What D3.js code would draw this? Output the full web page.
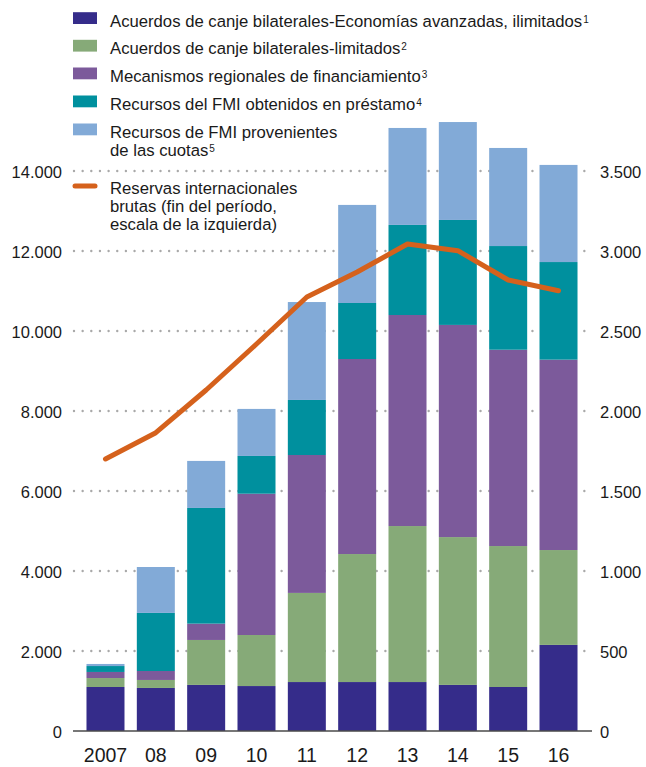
<!DOCTYPE html>
<html>
<head>
<meta charset="utf-8">
<script src="https://cdnjs.cloudflare.com/ajax/libs/d3/7.8.5/d3.min.js"></script>
<style>
  html, body { margin: 0; padding: 0; background: #fff; }
  svg { display: block; font-family: "Liberation Sans", Arial, sans-serif; }
</style>
</head>
<body>
<svg id="chart" width="646" height="767"></svg>
<script>
// ---- Data ----
const years = ["2007", "08", "09", "10", "11", "12", "13", "14", "15", "16"];

// Series (right-hand scale, stacked bars)
const swapAdvanced   = [275, 269, 288, 281, 306, 306, 306, 288, 275, 538];
const swapLimited    = [56, 50, 281, 319, 557, 800, 975, 924, 881, 593];
const regional       = [38, 56, 102, 883, 862, 1219, 1319, 1326, 1227, 1190];
const imfBorrowed    = [37, 363, 723, 236, 344, 350, 563, 656, 648, 610];
const imfQuota       = [13, 287, 294, 294, 612, 613, 606, 612, 613, 607];

// Line (left-hand scale)
const reserves = [6800, 7458, 8525, 9675, 10850, 11475, 12175, 12008, 11275, 11008];

const leftTicks  = [0, 2000, 4000, 6000, 8000, 10000, 12000, 14000];
const rightTicks = [0, 500, 1000, 1500, 2000, 2500, 3000, 3500];

const seriesNames = [
  ["Acuerdos de canje bilaterales-Economías avanzadas, ilimitados", "1"],
  ["Acuerdos de canje bilaterales-limitados", "2"],
  ["Mecanismos regionales de financiamiento", "3"],
  ["Recursos del FMI obtenidos en préstamo", "4"],
  ["Recursos de FMI provenientes|de las cuotas", "5"]
];
const lineName = ["Reservas internacionales", "brutas (fin del período,", "escala de la izquierda)"];
const colors = ["#352c8a", "#86aa78", "#7c5a9b", "#00909e", "#82aad7"];
const lineColor = "#d5611c";

// ---- Layout ----
const svg = d3.select("#chart");
const plotLeft = 73, plotRight = 591, yBottom = 731, yTop = 171;

const x = d3.scaleBand().domain(years).range([plotLeft, plotRight])
  .paddingInner(0.245).paddingOuter(0.268);
const yL = d3.scaleLinear().domain([0, 14000]).range([yBottom, yTop]);
const yR = d3.scaleLinear().domain([0, 3500]).range([yBottom, yTop]);

const fmt = d3.formatLocale({decimal: ",", thousands: ".", grouping: [3], currency: ["", ""]}).format(",");

// gridlines
svg.append("g").selectAll("line").data(leftTicks.filter(d => d > 0)).join("line")
  .attr("x1", plotLeft + 1).attr("x2", plotRight)
  .attr("y1", d => yL(d)).attr("y2", d => yL(d))
  .attr("stroke", "#a9a9a9").attr("stroke-width", 2.4)
  .attr("stroke-linecap", "round").attr("stroke-dasharray", "0 8.65");

// stacked bars
const rows = years.map((yr, i) => ({
  year: yr, s0: swapAdvanced[i], s1: swapLimited[i], s2: regional[i], s3: imfBorrowed[i], s4: imfQuota[i]
}));
const stack = d3.stack().keys(["s0", "s1", "s2", "s3", "s4"])(rows);
svg.append("g").selectAll("g").data(stack).join("g")
  .attr("fill", (d, i) => colors[i])
  .selectAll("rect").data(d => d).join("rect")
  .attr("x", d => x(d.data.year))
  .attr("width", x.bandwidth())
  .attr("y", d => yR(d[1]))
  .attr("height", d => yR(d[0]) - yR(d[1]));

// baseline
svg.append("line").attr("x1", plotLeft).attr("x2", plotRight + 1)
  .attr("y1", yBottom).attr("y2", yBottom)
  .attr("stroke", "#4a4a4a").attr("stroke-width", 1.6);

// left axis labels
svg.append("g").selectAll("text").data(leftTicks).join("text")
  .attr("x", 62).attr("y", d => yL(d) + 6.5)
  .attr("text-anchor", "end").attr("font-size", 16.5).attr("fill", "#1a1a1a")
  .text(d => fmt(d));

// right axis labels
svg.append("g").selectAll("text").data(rightTicks).join("text")
  .attr("x", 600).attr("y", d => yR(d) + 6.5)
  .attr("text-anchor", "start").attr("font-size", 16.5).attr("fill", "#1a1a1a")
  .text(d => fmt(d));

// x labels
svg.append("g").selectAll("text").data(years).join("text")
  .attr("x", d => x(d) + x.bandwidth() / 2).attr("y", 762)
  .attr("text-anchor", "middle").attr("font-size", 19.5).attr("fill", "#1a1a1a")
  .text(d => d);

// line
const line = d3.line().x((d, i) => x(years[i]) + x.bandwidth() / 2).y(d => yL(d));
svg.append("path").datum(reserves)
  .attr("d", line).attr("fill", "none")
  .attr("stroke", lineColor).attr("stroke-width", 5)
  .attr("stroke-linejoin", "round").attr("stroke-linecap", "round");

// legend
const legend = svg.append("g");
const rowY = [26.7, 54.3, 82, 110, 138];
seriesNames.forEach((nm, i) => {
  legend.append("rect").attr("x", 73).attr("y", rowY[i] - 14.5)
    .attr("width", 24).attr("height", 11.8).attr("fill", colors[i]);
  const lines = nm[0].split("|");
  const t = legend.append("text").attr("x", 110).attr("y", rowY[i])
    .attr("font-size", 16.7).attr("fill", "#1a1a1a");
  lines.forEach((ln, j) => {
    t.append("tspan").attr("x", 110).attr("dy", j === 0 ? 0 : 17.7).text(ln);
  });
  t.append("tspan").attr("font-size", 10).attr("dy", -4).attr("dx", 1).text(nm[1]);
});
legend.append("line").attr("x1", 75).attr("x2", 95).attr("y1", 186).attr("y2", 186)
  .attr("stroke", lineColor).attr("stroke-width", 5).attr("stroke-linecap", "round");
const lt = legend.append("text").attr("x", 110).attr("y", 194)
  .attr("font-size", 16.7).attr("fill", "#1a1a1a");
lineName.forEach((ln, j) => {
  lt.append("tspan").attr("x", 110).attr("dy", j === 0 ? 0 : 17.8).text(ln);
});
</script>
</body>
</html>
